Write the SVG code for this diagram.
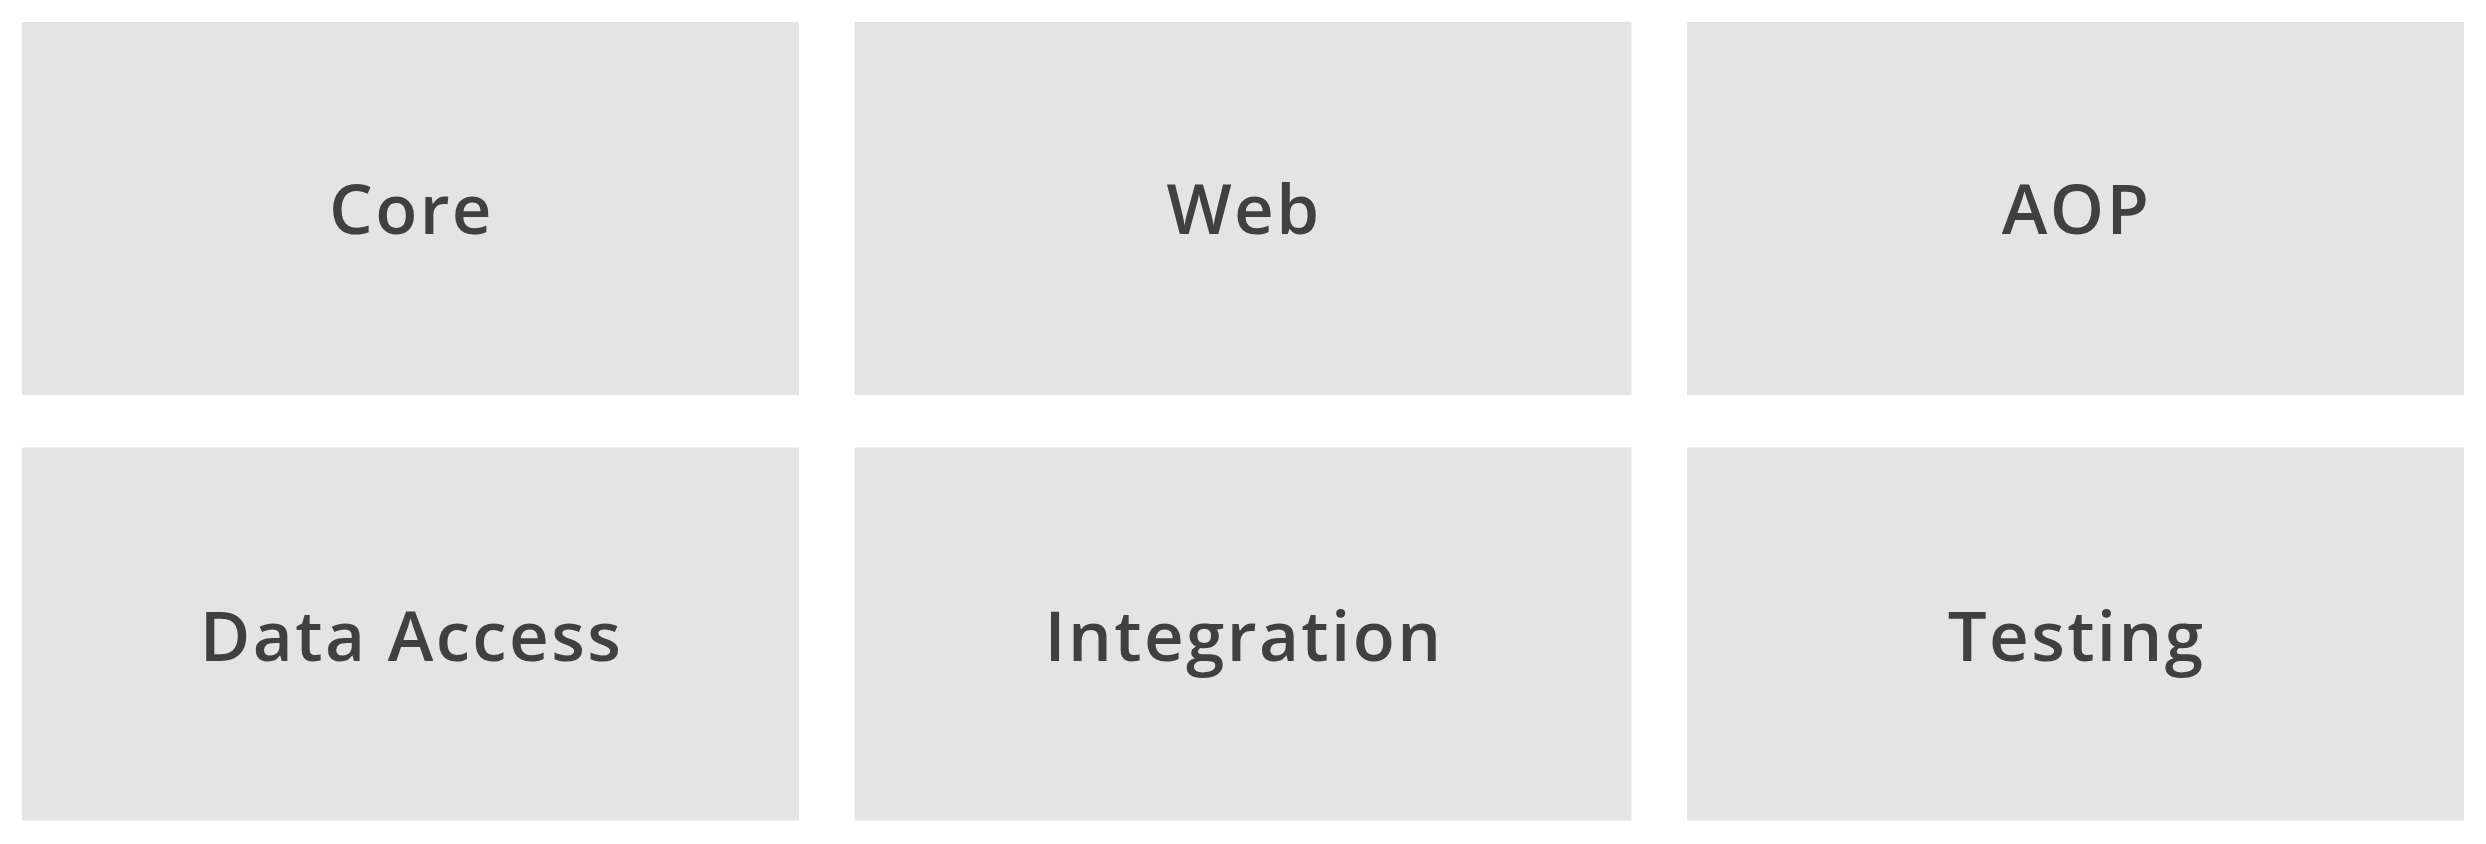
<svg xmlns="http://www.w3.org/2000/svg" width="2486" height="844" viewBox="0 0 2486 844">
  <style>
    .box { fill: #e4e4e4; }
    .label { font-family: "Open Sans", "Liberation Sans", sans-serif; font-weight: 600; font-size: 69px; letter-spacing: 2.4px; fill: #404040; text-anchor: middle; }
  </style>
  <rect width="2486" height="844" fill="#ffffff"/>
  <g id="core">
    <rect class="box" x="22" y="22" width="777" height="373"/>
    <text class="label" x="411.5" y="234">Core</text>
  </g>
  <g id="web">
    <rect class="box" x="854.5" y="22" width="777" height="373"/>
    <text class="label" x="1244" y="234">Web</text>
  </g>
  <g id="aop">
    <rect class="box" x="1687" y="22" width="777" height="373"/>
    <text class="label" x="2076.5" y="234">AOP</text>
  </g>
  <g id="data-access">
    <rect class="box" x="22" y="447.5" width="777" height="373"/>
    <text class="label" x="411.5" y="661">Data Access</text>
  </g>
  <g id="integration">
    <rect class="box" x="854.5" y="447.5" width="777" height="373"/>
    <text class="label" x="1244" y="661">Integration</text>
  </g>
  <g id="testing">
    <rect class="box" x="1687" y="447.5" width="777" height="373"/>
    <text class="label" x="2076.5" y="661">Testing</text>
  </g>
  <g id="connectors"/>
</svg>
